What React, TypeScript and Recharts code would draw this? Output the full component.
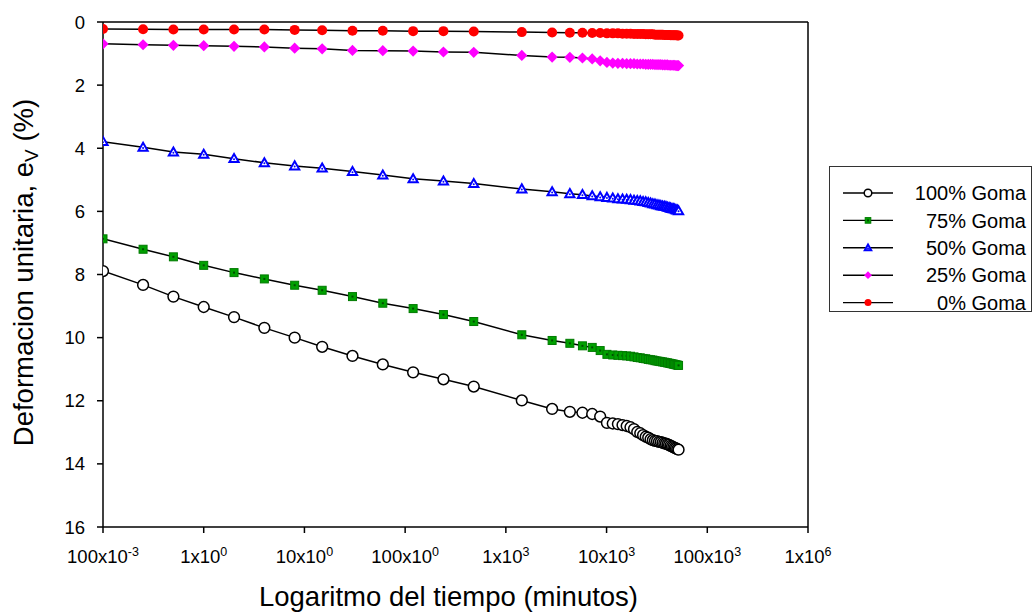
import { LineChart, Line, XAxis, YAxis, ReferenceLine, Label } from 'recharts';

// tiempo de lectura (minutos): lecturas iniciales y luego una por dia (36 dias)
const timeMin = [
  0.1, 0.25, 0.5, 1, 2, 4, 8, 15, 30, 60, 120, 240, 480,
  1440, 2880, 4320, 5760, 7200, 8640, 10080, 11520, 12960, 14400,
  15840, 17280, 18720, 20160, 21600, 23040, 24480, 25920, 27360, 28800,
  30240, 31680, 33120, 34560, 36000, 37440, 38880, 40320, 41760, 43200,
  44640, 46080, 47520, 48960, 50400, 51840,
];

const goma100 = [
  7.89, 8.33, 8.70, 9.03, 9.35, 9.69, 10.0, 10.29, 10.58, 10.85, 11.10, 11.32, 11.55,
  11.99, 12.26, 12.35, 12.38, 12.42, 12.50, 12.70, 12.72, 12.74, 12.77,
  12.80, 12.84, 12.90, 12.99, 13.03, 13.09, 13.14, 13.17, 13.22, 13.25,
  13.27, 13.28, 13.30, 13.31, 13.33, 13.35, 13.36, 13.38, 13.40, 13.43,
  13.45, 13.47, 13.49, 13.51, 13.53, 13.55,
];

const goma75 = [
  6.87, 7.20, 7.44, 7.71, 7.94, 8.14, 8.34, 8.50, 8.70, 8.91, 9.08, 9.27, 9.49,
  9.91, 10.09, 10.18, 10.26, 10.31, 10.41, 10.53, 10.55, 10.56, 10.57,
  10.58, 10.59, 10.61, 10.63, 10.64, 10.66, 10.67, 10.69, 10.70, 10.71,
  10.73, 10.74, 10.75, 10.76, 10.77, 10.78, 10.79, 10.80, 10.81, 10.82,
  10.83, 10.84, 10.85, 10.86, 10.87, 10.88,
];

const goma50 = [
  3.79, 3.97, 4.12, 4.19, 4.33, 4.46, 4.56, 4.63, 4.74, 4.85, 4.97, 5.04, 5.12,
  5.29, 5.38, 5.44, 5.47, 5.51, 5.54, 5.56, 5.58, 5.60, 5.61,
  5.62, 5.63, 5.65, 5.66, 5.67, 5.69, 5.70, 5.72, 5.74, 5.76,
  5.77, 5.79, 5.80, 5.82, 5.83, 5.84, 5.85, 5.87, 5.88, 5.90,
  5.91, 5.92, 5.93, 5.95, 5.96, 5.98,
];

const goma25 = [
  0.69, 0.72, 0.74, 0.75, 0.77, 0.79, 0.83, 0.85, 0.90, 0.91, 0.92, 0.95, 0.96,
  1.06, 1.11, 1.12, 1.14, 1.17, 1.23, 1.28, 1.30, 1.31, 1.31,
  1.32, 1.32, 1.32, 1.33, 1.33, 1.33, 1.34, 1.34, 1.34, 1.34,
  1.35, 1.35, 1.35, 1.35, 1.36, 1.36, 1.36, 1.36, 1.37, 1.37,
  1.37, 1.37, 1.37, 1.38, 1.38, 1.38,
];

const goma0 = [
  0.22, 0.23, 0.24, 0.24, 0.24, 0.24, 0.25, 0.26, 0.28, 0.28, 0.29, 0.29, 0.30,
  0.32, 0.33, 0.34, 0.34, 0.35, 0.35, 0.36, 0.36, 0.36, 0.37,
  0.37, 0.37, 0.38, 0.38, 0.38, 0.38, 0.39, 0.39, 0.39, 0.39,
  0.40, 0.40, 0.40, 0.40, 0.40, 0.41, 0.41, 0.41, 0.41, 0.42,
  0.42, 0.42, 0.42, 0.42, 0.43, 0.43,
];

const xTicks = [0.1, 1, 10, 100, 1e3, 1e4, 1e5, 1e6];
const xTickLabels: [string, string][] = [
  ['100x10', '-3'], ['1x10', '0'], ['10x10', '0'], ['100x10', '0'],
  ['1x10', '3'], ['10x10', '3'], ['100x10', '3'], ['1x10', '6'],
];
const yTicks = [0, 2, 4, 6, 8, 10, 12, 14, 16];

const data = timeMin.map((t, i) => ({
  t,
  g100: goma100[i],
  g75: goma75[i],
  g50: goma50[i],
  g25: goma25[i],
  g0: goma0[i],
}));

const FONT = '"Liberation Sans", Arial, sans-serif';

type MarkerKind = 'openCircle' | 'square' | 'triangle' | 'diamond' | 'circle';

function Marker({ kind, cx, cy, s = 1 }: { kind: MarkerKind; cx: number; cy: number; s?: number }) {
  if (kind === 'openCircle') {
    return <circle cx={cx} cy={cy} r={5.4 * s} fill="#fff" stroke="#000" strokeWidth={1.5} />;
  }
  if (kind === 'square') {
    const h = 4 * s;
    return (
      <g>
        <rect x={cx - h} y={cy - h} width={2 * h} height={2 * h} fill="#00a000" stroke="#007a00" strokeWidth={1} />
        <rect x={cx - 1} y={cy - 1} width={2} height={2} fill="#004d00" />
      </g>
    );
  }
  if (kind === 'triangle') {
    const h = 4.6 * s;
    return (
      <g>
        <path d={`M${cx},${cy - h} L${cx + h},${cy + h * 0.75} L${cx - h},${cy + h * 0.75} Z`} fill="#fff" stroke="#0000ff" strokeWidth={2} />
        <circle cx={cx} cy={cy + 0.6} r={1} fill="#0000ff" />
      </g>
    );
  }
  if (kind === 'diamond') {
    const h = 5.6 * s;
    return <path d={`M${cx},${cy - h} L${cx + h},${cy} L${cx},${cy + h} L${cx - h},${cy} Z`} fill="#ff00ff" />;
  }
  return <circle cx={cx} cy={cy} r={5 * s} fill="#ff0000" />;
}

const series: { key: string; name: string; kind: MarkerKind }[] = [
  { key: 'g100', name: '100% Goma', kind: 'openCircle' },
  { key: 'g75', name: '75% Goma', kind: 'square' },
  { key: 'g50', name: '50% Goma', kind: 'triangle' },
  { key: 'g25', name: '25% Goma', kind: 'diamond' },
  { key: 'g0', name: '0% Goma', kind: 'circle' },
];

function XTick(props: any) {
  const { x, y, payload } = props;
  const i = xTicks.indexOf(payload.value);
  const [base, exp] = xTickLabels[i] ?? ['', ''];
  return (
    <text x={x} y={y} dy="0.71em" textAnchor="middle" fontFamily={FONT} fontSize={18.5} fill="#000">
      {base}
      <tspan dy={-7} fontSize={12.5}>{exp}</tspan>
    </text>
  );
}

function Legendbox() {
  return (
    <div style={{
      position: 'absolute', left: 829, top: 166, width: 203, height: 146,
      border: '1px solid #333', boxSizing: 'border-box', background: '#fff',
    }}>
      <svg width={201} height={144} style={{ overflow: 'visible', display: 'block' }}>
        {series.map((s, i) => {
          const y = 26 + i * 27.4;
          return (
            <g key={s.key}>
              <line x1={13} x2={63} y1={y} y2={y} stroke="#000" strokeWidth={1.4} />
              <Marker kind={s.kind} cx={38} cy={y} s={0.7} />
              <text x={196} y={y} dy="0.36em" textAnchor="end" fontFamily={FONT} fontSize={20} fill="#000">{s.name}</text>
            </g>
          );
        })}
      </svg>
    </div>
  );
}

export default function App() {
  return (
    <div style={{ position: 'absolute', left: 0, top: 0, width: 1035, height: 613, background: '#fff' }}>
      <LineChart
        width={1035}
        height={613}
        data={data}
        margin={{ top: 22, right: 227, bottom: 0, left: 0 }}
      >
        <XAxis
          dataKey="t"
          type="number"
          scale="log"
          domain={[0.1, 1e6]}
          ticks={xTicks}
          allowDataOverflow
          height={86}
          stroke="#000"
          strokeWidth={1.5}
          tickSize={6}
          tickMargin={17}
          tick={<XTick />}
        >
          <Label
            content={(p: any) => {
              const vb = p.viewBox;
              return (
                <text x={vb.x + vb.width / 2 - 7} y={606} textAnchor="middle" fontFamily={FONT} fontSize={27.5} fill="#000">
                  Logaritmo del tiempo (minutos)
                </text>
              );
            }}
          />
        </XAxis>
        <YAxis
          type="number"
          reversed
          domain={[0, 16]}
          ticks={yTicks}
          width={103}
          stroke="#000"
          strokeWidth={1.5}
          tickSize={6}
          tickMargin={12}
          tick={{ fill: '#000', fontSize: 18.5, fontFamily: FONT }}
        >
          <Label
            content={(p: any) => {
              const vb = p.viewBox;
              const cy = vb.y + vb.height / 2 - 2;
              return (
                <text
                  x={33}
                  y={cy}
                  transform={`rotate(-90, 33, ${cy})`}
                  textAnchor="middle"
                  fontFamily={FONT}
                  fontSize={27.5}
                  fill="#000"
                >
                  Deformacion unitaria, e
                  <tspan dy={5} fontSize={19}>V</tspan>
                  <tspan dy={-5}> (%)</tspan>
                </text>
              );
            }}
          />
        </YAxis>
        <ReferenceLine y={0} stroke="#000" strokeWidth={1.5} />
        <ReferenceLine x={1e6} stroke="#000" strokeWidth={1.5} />
        {series.map((s) => (
          <Line
            key={s.key}
            dataKey={s.key}
            name={s.name}
            type="linear"
            stroke="#000"
            strokeWidth={1.5}
            isAnimationActive={false}
            dot={(p: any) => <Marker key={`${s.key}-${p.index}`} kind={s.kind} cx={p.cx} cy={p.cy} />}
            activeDot={false}
          />
        ))}
      </LineChart>
      <Legendbox />
    </div>
  );
}
